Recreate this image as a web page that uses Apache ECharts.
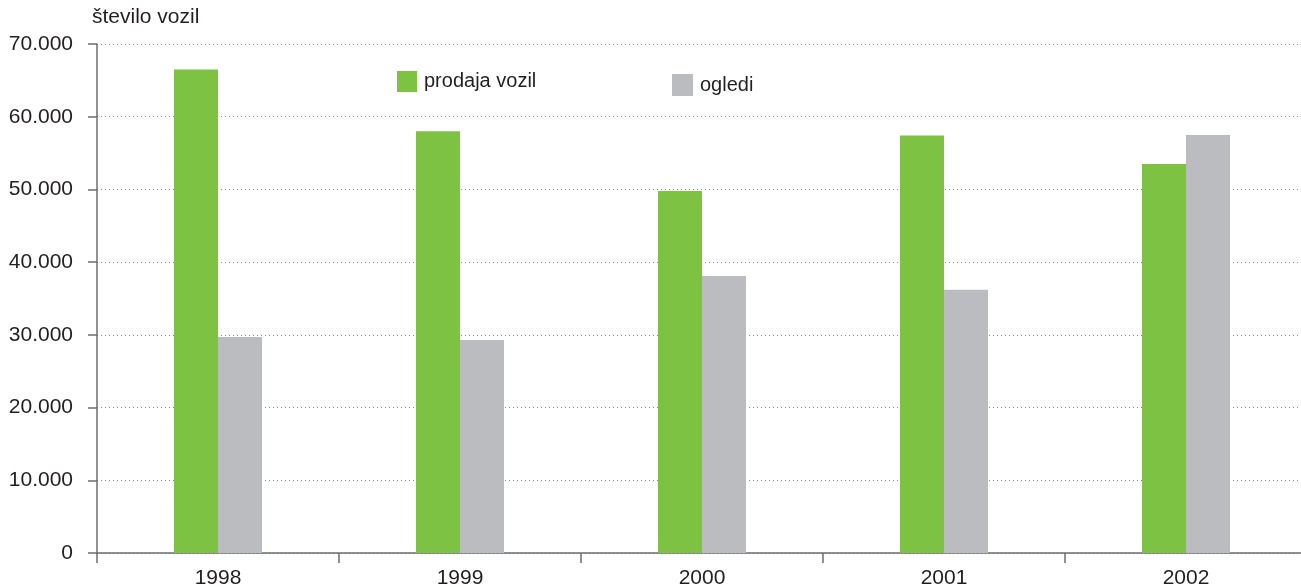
<!DOCTYPE html>
<html>
<head>
<meta charset="utf-8">
<script src="https://cdn.jsdelivr.net/npm/echarts@6/dist/echarts.min.js"></script>
<style>
    html, body { margin: 0; padding: 0; background: #fff; }
    #chart { width: 1301px; height: 587px; }
</style>
</head>
<body>
<div id="chart"></div>
<script>
    // leta in vrednosti (odčitano z grafa)
    var years = ['1998', '1999', '2000', '2001', '2002'];
    var prodajaVozil = [66500, 58000, 49800, 57400, 53500];
    var ogledi = [29700, 29300, 38100, 36200, 57500];
    var seriesNames = ['prodaja vozil', 'ogledi'];
    var yTitle = 'število vozil';

    var textColor = '#231f20';
    var axisColor = '#6d6e70';
    var fontName = 'Liberation Sans, Arial, sans-serif';

    var myChart = echarts.init(document.getElementById('chart'));
    myChart.setOption({
        animation: false,
        color: ['#7dc243', '#bbbcbf'],
        textStyle: { fontFamily: fontName, color: textColor },
        // mreža sega malo čez desni rob
        grid: { left: 97, width: 1210, top: 44, bottom: 34, outerBoundsMode: 'none' },
        graphic: [{
            type: 'text',
            left: 92,
            top: 7,
            style: { text: yTitle, font: '21px ' + fontName, fill: textColor }
        }],
        legend: [
            {
                data: [seriesNames[0]],
                left: 392, top: 66,
                itemWidth: 20, itemHeight: 21,
                icon: 'rect',
                textStyle: { fontSize: 20, color: textColor, padding: [0, 0, 0, 2] }
            },
            {
                data: [seriesNames[1]],
                left: 667, top: 69,
                itemWidth: 21, itemHeight: 22,
                icon: 'rect',
                textStyle: { fontSize: 20, color: textColor, padding: [0, 0, 0, 2] }
            }
        ],
        xAxis: {
            type: 'category',
            data: years,
            axisLine: { lineStyle: { color: axisColor, width: 1.5 } },
            axisTick: { show: true, length: 10, lineStyle: { color: axisColor, width: 1.5 } },
            axisLabel: { fontSize: 21, color: textColor, margin: 15 }
        },
        yAxis: {
            type: 'value',
            min: 0,
            max: 70000,
            interval: 10000,
            axisLine: { show: true, lineStyle: { color: axisColor, width: 1.5 } },
            axisTick: { show: true, length: 9, lineStyle: { color: axisColor, width: 1.5 } },
            axisLabel: {
                fontSize: 21,
                color: textColor,
                margin: 24,
                formatter: function (v) {
                    return v === 0 ? '0' : (v / 1000) + '.000';
                }
            },
            splitLine: { lineStyle: { color: '#8a8a8a', type: [1, 3], width: 1 } }
        },
        series: [
            { name: seriesNames[0], type: 'bar', data: prodajaVozil, barWidth: 44, barGap: '0%' },
            { name: seriesNames[1], type: 'bar', data: ogledi, barWidth: 44, barGap: '0%' }
        ]
    });
</script>
</body>
</html>
